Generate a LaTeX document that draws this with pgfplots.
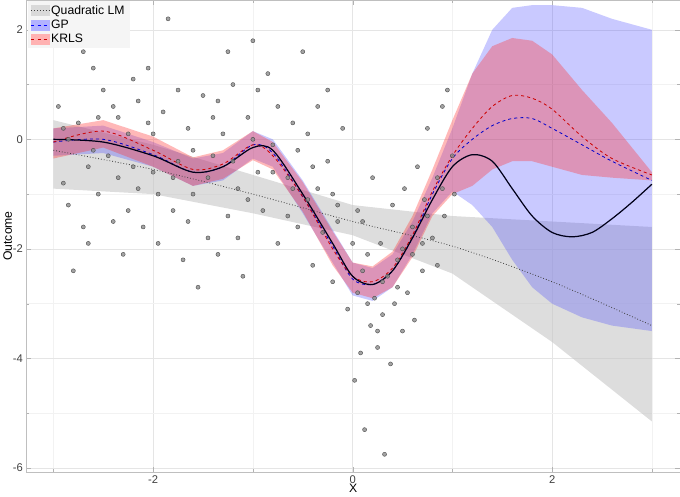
\documentclass[border=0pt]{standalone}
\usepackage{pgfplots}
\pgfplotsset{compat=1.18}
\usepackage{fontspec}
\setmainfont{Liberation Sans}
\begin{document}
\begin{tikzpicture}
\begin{axis}[scale only axis, width=640bp, height=462bp,
 xmin=-3.27, xmax=3.28, ymin=-6.07, ymax=2.54,
 xtick={-2,0,2}, ytick={-6,-4,-2,0,2},
 minor xtick={-3,-1,1,3}, minor ytick={-5,-3,-1,1},
 grid=both, major grid style={gray!20}, minor grid style={gray!10},
 axis line style={gray!50}, tick style={gray!60},
 tick label style={font=\fontsize{11}{12}\selectfont, text=black!75},
 /pgf/number format/assume math mode=true,
 xlabel={X}, ylabel={Outcome}, label style={font=\fontsize{12}{13}\selectfont},
 xlabel style={yshift=6pt}, ylabel style={yshift=-6pt},
 legend cell align=left,
 legend style={draw=none, fill=gray!8, font=\fontsize{12}{14}\selectfont, at={(0.002,0.998)}, anchor=north west},
]
\addlegendimage{legend image code/.code={\fill[gray!30] (0cm,-0.17cm) rectangle (0.6cm,0.17cm); \draw[dotted,thick,gray!50!black] (0cm,0cm)--(0.6cm,0cm);}}
\addlegendentry{Quadratic LM}
\addlegendimage{legend image code/.code={\fill[blue!30] (0cm,-0.17cm) rectangle (0.6cm,0.17cm); \draw[dashed,blue] (0cm,0cm)--(0.6cm,0cm);}}
\addlegendentry{GP}
\addlegendimage{legend image code/.code={\fill[red!30] (0cm,-0.17cm) rectangle (0.6cm,0.17cm); \draw[dashed,red!80!black] (0cm,0cm)--(0.6cm,0cm);}}
\addlegendentry{KRLS}
% points
\addplot[only marks, mark=*, mark size=2pt, mark options={fill=black!45, draw=black!70, fill opacity=0.8}, forget plot] coordinates {
(-2.95,0.6)(-2.9,-0.8)(-2.85,-1.2)(-2.8,-2.4)(-2.75,0.3)(-2.7,-1.6)(-2.65,-0.5)(-2.6,1.3)(-2.55,-1.0)(-2.5,0.9)
(-2.45,-0.3)(-2.4,-1.5)(-2.35,0.4)(-2.3,-2.1)(-2.25,0.1)(-2.2,1.1)(-2.15,-0.9)(-2.1,-1.6)(-2.05,0.3)(-2.0,-0.6)
(-1.95,-1.9)(-1.9,0.5)(-1.85,2.2)(-1.8,-1.3)(-1.75,-0.4)(-1.7,-2.2)(-1.65,0.2)(-1.6,-1.0)(-1.55,-2.7)(-1.5,0.8)
(-1.45,-1.8)(-1.4,-0.3)(-1.35,-2.1)(-1.3,0.1)(-1.25,-1.4)(-1.2,1.0)(-1.15,-0.9)(-1.1,-2.5)(-1.05,0.4)(-1.0,1.8)
(-0.95,-0.6)(-0.9,-1.3)(-0.85,1.2)(-0.8,-0.1)(-0.75,-1.9)(-0.7,2.7)(-0.65,-0.7)(-0.6,0.3)(-0.55,-1.6)(-0.5,1.6)
(-0.45,-1.1)(-0.4,-2.3)(-0.35,0.6)(-0.3,-1.7)(-0.25,-0.4)(-0.2,-2.6)(-0.15,-1.2)(-0.1,0.2)(-0.05,-3.1)(0.0,-1.9)
(0.02,-4.4)(0.05,-2.8)(0.08,-3.9)(0.1,-1.5)(0.12,-5.3)(0.15,-2.1)(0.18,-3.4)(0.2,-0.7)(0.22,-2.9)(0.25,-3.8)
(0.28,-1.9)(0.3,-3.2)(0.32,-5.75)(0.35,-2.5)(0.38,-4.1)(0.4,-1.2)(0.42,-3.0)(0.45,-2.2)(0.5,-3.5)(0.52,-0.9)
(0.55,-2.8)(0.6,-1.6)(0.62,-3.3)(0.65,-0.5)(0.7,-2.4)(0.72,-1.1)(0.75,0.2)(0.8,-1.8)(0.85,-0.7)(0.9,0.6)
(0.92,-1.4)(0.95,0.9)(1.0,-0.3)(1.02,-1.0)
(-2.9,0.2)(-2.7,1.6)(-2.6,-0.2)(-2.4,0.6)(-2.2,-0.5)(-2.0,0.1)(-1.8,-0.7)(-1.6,-0.2)(-1.4,0.4)(-1.2,-0.4)
(-1.0,0.0)(-0.8,-0.6)(-0.6,-0.9)(-0.4,-0.5)(-0.2,-1.0)(0.1,-2.4)(0.3,-2.6)(0.5,-2.0)(0.7,-1.9)(0.9,-0.9)
(-2.85,0.0)(-2.55,0.4)(-2.25,-1.3)(-1.95,-1.0)(-1.65,-1.5)(-1.35,0.7)(-1.05,-1.1)(-0.75,0.6)(-0.45,0.1)(-0.15,-1.5)
(0.15,-3.0)(0.45,-2.7)(0.75,-1.4)(-2.35,-0.7)(-1.75,0.9)(-1.15,-1.8)(-0.65,-1.4)(-0.35,-0.9)(0.25,-3.5)(0.6,-2.1)
(-2.65,-1.9)(-2.05,1.3)(-1.45,-0.7)(-0.95,0.9)(-0.55,-0.2)(0.05,-1.3)(0.85,-2.3)(-1.25,1.6)(-2.15,0.7)(-0.25,0.9)
};
% LM band
\addplot[fill=gray!45, fill opacity=0.6, draw=none, forget plot] coordinates {
(-3,0.35)(-2,-0.1)(-1,-0.65)(0,-1.2)(1,-1.4)(2,-1.5)(3,-1.6)
(3,-5.15)(2,-3.7)(1,-2.45)(0,-1.75)(-1,-1.35)(-2,-1.0)(-3,-0.9)} -- cycle;
% GP band
\addplot[fill=blue!70, fill opacity=0.3, draw=none, forget plot] coordinates {
(-3,0.2)(-2.5,0.25)(-2,-0.05)(-1.6,-0.35)(-1.3,-0.25)(-1,0.15)(-0.8,0.0)(-0.5,-0.75)(-0.2,-1.65)(0,-2.25)(0.2,-2.35)(0.4,-2.1)(0.6,-1.5)(0.8,-0.7)(1.0,0.2)(1.2,1.2)(1.4,2.0)(1.6,2.4)(1.8,2.45)(2.0,2.45)(2.3,2.4)(2.6,2.2)(3,2.0)
(3,-3.5)(2.6,-3.4)(2.3,-3.25)(2.0,-3.0)(1.8,-2.7)(1.6,-2.2)(1.4,-1.6)(1.2,-1.2)(1.0,-0.95)(0.8,-1.35)(0.6,-2.1)(0.4,-2.7)(0.2,-2.95)(0,-2.85)(-0.2,-2.25)(-0.5,-1.35)(-0.8,-0.5)(-1,-0.35)(-1.3,-0.75)(-1.6,-0.85)(-2,-0.5)(-2.5,-0.25)(-3,-0.3)} -- cycle;
% KRLS band
\addplot[fill=red!80, fill opacity=0.35, draw=none, forget plot] coordinates {
(-3,0.2)(-2.5,0.35)(-2,0.05)(-1.6,-0.33)(-1.3,-0.2)(-1,0.15)(-0.8,-0.05)(-0.5,-0.78)(-0.2,-1.68)(0,-2.25)(0.2,-2.32)(0.4,-2.05)(0.6,-1.4)(0.8,-0.55)(1.0,0.35)(1.2,1.2)(1.4,1.7)(1.6,1.85)(1.8,1.8)(2.0,1.55)(2.3,0.9)(2.6,0.3)(3,-0.6)
(3,-0.75)(2.6,-0.7)(2.3,-0.65)(2.0,-0.5)(1.8,-0.4)(1.6,-0.4)(1.4,-0.55)(1.2,-0.85)(1.0,-1.0)(0.8,-1.4)(0.6,-2.15)(0.4,-2.7)(0.2,-2.9)(0,-2.8)(-0.2,-2.3)(-0.5,-1.32)(-0.8,-0.55)(-1,-0.38)(-1.3,-0.72)(-1.6,-0.85)(-2,-0.5)(-2.5,-0.15)(-3,-0.35)} -- cycle;
% LM line
\addplot[dotted, thick, gray!50!black, smooth, forget plot] coordinates {(-3,-0.2)(-2,-0.55)(-1,-1.0)(0,-1.5)(1,-1.95)(2,-2.6)(3,-3.4)};
% GP mean
\addplot[dashed, blue!80!black, thick, smooth, forget plot] coordinates {
(-3,-0.05)(-2.5,0.0)(-2,-0.28)(-1.6,-0.6)(-1.3,-0.5)(-1,-0.1)(-0.8,-0.25)(-0.5,-1.05)(-0.2,-1.95)(0,-2.55)(0.2,-2.65)(0.4,-2.4)(0.6,-1.8)(0.8,-1.0)(1.0,-0.35)(1.2,0.0)(1.4,0.25)(1.6,0.38)(1.8,0.38)(2.0,0.2)(2.3,-0.1)(2.6,-0.4)(3,-0.75)};
% KRLS mean
\addplot[dashed, red!80!black, thick, smooth, forget plot] coordinates {
(-3,-0.05)(-2.5,0.15)(-2,-0.2)(-1.6,-0.55)(-1.3,-0.45)(-1,-0.1)(-0.8,-0.3)(-0.5,-1.05)(-0.2,-2.0)(0,-2.5)(0.2,-2.6)(0.4,-2.35)(0.6,-1.75)(0.8,-0.95)(1.0,-0.3)(1.2,0.2)(1.4,0.6)(1.6,0.8)(1.8,0.75)(2.0,0.55)(2.3,0.05)(2.6,-0.35)(3,-0.65)};
% true function
\addplot[very thick, black!90!blue, smooth, forget plot] coordinates {
(-3,0)(-2.5,-0.05)(-2,-0.3)(-1.6,-0.6)(-1.3,-0.5)(-1,-0.15)(-0.8,-0.2)(-0.5,-1.0)(-0.2,-1.9)(0,-2.5)(0.2,-2.65)(0.4,-2.4)(0.6,-1.8)(0.8,-1.1)(1.0,-0.5)(1.2,-0.28)(1.4,-0.4)(1.6,-0.9)(1.8,-1.4)(2.0,-1.7)(2.2,-1.78)(2.4,-1.7)(2.6,-1.45)(2.8,-1.15)(3,-0.82)};
\end{axis}
\end{tikzpicture}
\end{document}
